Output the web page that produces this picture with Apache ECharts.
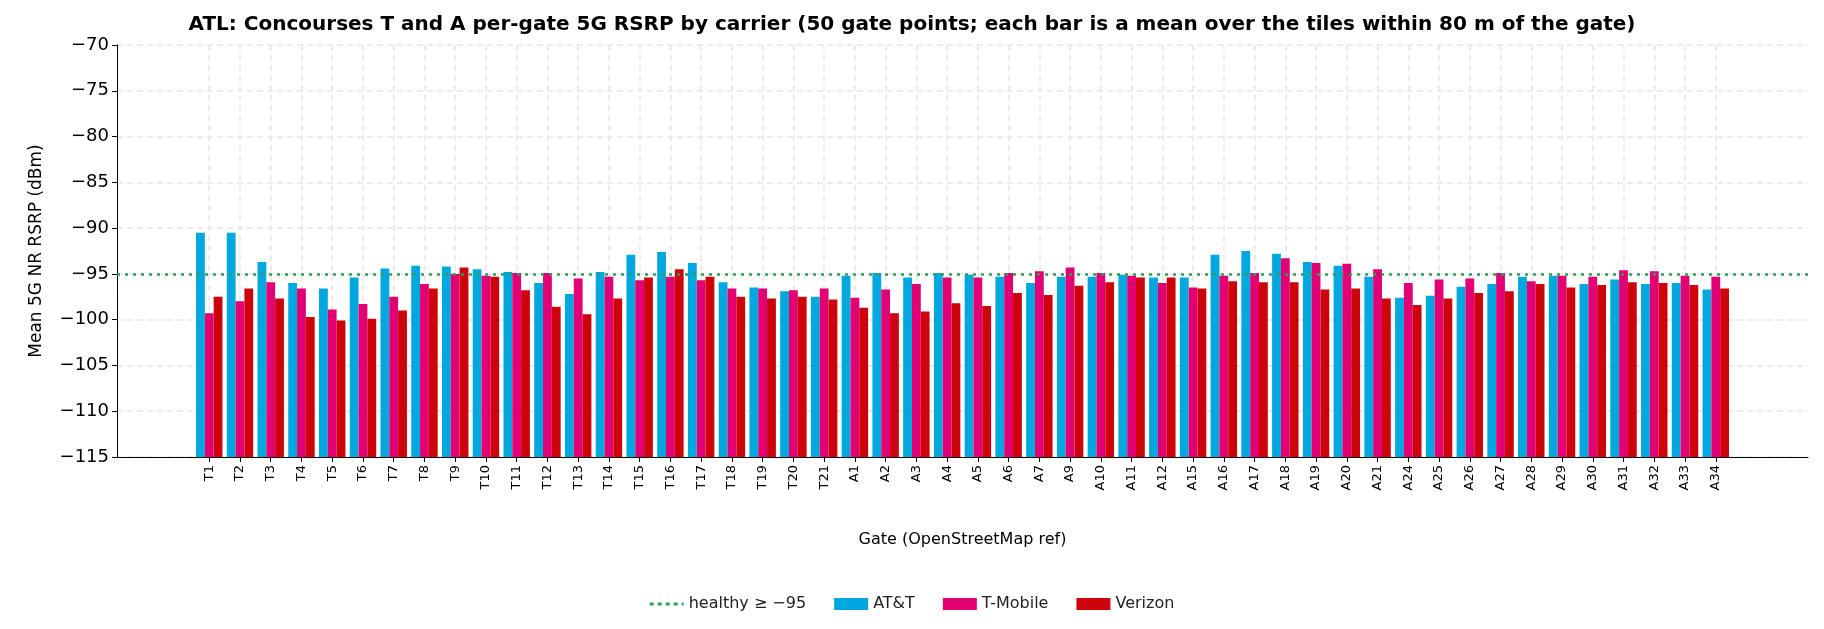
<!DOCTYPE html>
<html>
<head>
<meta charset="utf-8">
<script src="https://cdn.jsdelivr.net/npm/echarts@6/dist/echarts.min.js"></script>
<style>html,body{margin:0;padding:0;background:#fff}#grafico{width:1824px;height:629px}</style>
</head>
<body>
<div id="grafico"></div>
<script>
var gates = ["T1","T2","T3","T4","T5","T6","T7","T8","T9","T10","T11","T12","T13","T14","T15","T16","T17","T18","T19","T20","T21",
    "A1","A2","A3","A4","A5","A6","A7","A9","A10","A11","A12","A15","A16","A17","A18","A19","A20","A21","A24","A25","A26","A27","A28","A29","A30","A31","A32","A33","A34"];
var att = [-90.5,-90.5,-93.7,-96.0,-96.6,-95.4,-94.4,-94.1,-94.2,-94.5,-94.8,-96.0,-97.2,-94.8,-92.9,-92.6,-93.8,-95.9,-96.5,-96.9,-97.5,
    -95.2,-94.9,-95.4,-94.9,-95.1,-95.3,-96.0,-95.3,-95.3,-95.1,-95.4,-95.4,-92.9,-92.5,-92.8,-93.7,-94.1,-95.3,-97.6,-97.4,-96.4,-96.1,-95.3,-95.2,-96.1,-95.6,-96.1,-96.0,-96.7];
var tmobile = [-99.3,-98.0,-95.9,-96.6,-98.9,-98.3,-97.5,-96.1,-95.0,-95.2,-94.9,-94.9,-95.5,-95.3,-95.7,-95.3,-95.7,-96.6,-96.6,-96.8,-96.6,
    -97.6,-96.7,-96.1,-95.4,-95.4,-94.9,-94.7,-94.3,-94.9,-95.2,-96.0,-96.5,-95.2,-94.9,-93.3,-93.8,-93.9,-94.5,-96.0,-95.6,-95.5,-94.9,-95.8,-95.2,-95.3,-94.6,-94.7,-95.2,-95.3];
var verizon = [-97.5,-96.6,-97.7,-99.7,-100.1,-99.9,-99.0,-96.6,-94.3,-95.3,-96.8,-98.6,-99.4,-97.7,-95.4,-94.5,-95.3,-97.5,-97.7,-97.5,-97.8,
    -98.7,-99.3,-99.1,-98.2,-98.5,-97.1,-97.3,-96.3,-95.9,-95.4,-95.4,-96.6,-95.8,-95.9,-95.9,-96.7,-96.6,-97.7,-98.4,-97.7,-97.1,-96.9,-96.1,-96.5,-96.2,-95.9,-96.0,-96.2,-96.6];
var healthy = -95;
var yMin = -115, yMax = -70;
var pad = 3;

function minus(v){ return String(v).replace("-", "\u2212"); }

function conRelleno(arr){
    var out = [];
    for (var i = 0; i < pad; i++) out.push("-");
    arr.forEach(function(v){ out.push(v - yMin); });
    for (var j = 0; j < pad; j++) out.push("-");
    return out;
}

var cats = [];
for (var i = 0; i < pad; i++) cats.push("");
gates.forEach(function(g){ cats.push(g); });
for (var j = 0; j < pad; j++) cats.push("");

var myChart = echarts.init(document.getElementById("grafico"));
var fuente = "DejaVu Sans";
var option = {
    textStyle: { fontFamily: fuente },
    color: ["#2ca05a", "#00a8e0", "#e20074", "#cd040b"],
    title: {
        text: "ATL: Concourses T and A per-gate 5G RSRP by carrier (50 gate points; each bar is a mean over the tiles within 80 m of the gate)",
        left: "center", top: 10,
        textStyle: { fontSize: 20, fontWeight: "bold", color: "#000", fontFamily: fuente }
    },
    legend: {
        bottom: 12, left: "center", itemWidth: 34, itemHeight: 12, itemGap: 28,
        textStyle: { fontSize: 16, color: "#222", fontFamily: fuente },
        data: [
            { name: "healthy \u2265 \u221295", icon: "path://M0,5h4v3h-4zM8,5h4v3h-4zM16,5h4v3h-4zM24,5h4v3h-4zM32,5h2v3h-2z" },
            { name: "AT&T", icon: "rect" },
            { name: "T-Mobile", icon: "rect" },
            { name: "Verizon", icon: "rect" }
        ]
    },
    grid: { left: 117, right: 16, top: 45, bottom: 172 },
    xAxis: {
        type: "category", data: cats, boundaryGap: false,
        name: "Gate (OpenStreetMap ref)", nameLocation: "middle", nameGap: 75,
        nameTextStyle: { fontSize: 16, color: "#000" },
        axisLine: { lineStyle: { color: "#000" } },
        axisTick: { alignWithLabel: true, interval: function(i){ return i >= pad && i < pad + gates.length; }, lineStyle: { color: "#000" } },
        axisLabel: { rotate: 90, interval: 0, fontSize: 13, color: "#000" },
        splitLine: { show: true, interval: function(i){ return i >= pad && i < pad + gates.length; }, lineStyle: { type: [6, 4], color: "#e6e6e6", width: 1.5 } }
    },
    yAxis: {
        type: "value", min: 0, max: yMax - yMin, interval: 5,
        name: "Mean 5G NR RSRP (dBm)", nameLocation: "middle", nameGap: 72,
        nameTextStyle: { fontSize: 17, color: "#000" },
        axisLine: { show: true, lineStyle: { color: "#000" } },
        axisTick: { show: true, lineStyle: { color: "#000" } },
        axisLabel: { fontSize: 18, color: "#000", formatter: function(v){ return minus(v + yMin); } },
        splitLine: { show: true, lineStyle: { type: [6, 4], color: "#e6e6e6", width: 1.5 } }
    },
    series: [
        {
            name: "healthy \u2265 \u221295", type: "line", data: [], symbol: "none",
            lineStyle: { type: "dotted", width: 2.5, color: "#2ca05a" },
            markLine: {
                silent: true, symbol: "none", label: { show: false },
                lineStyle: { type: [3, 5], width: 2.5, color: "#2ca05a" },
                data: [{ yAxis: healthy - yMin }]
            }
        },
        { name: "AT&T", type: "bar", data: conRelleno(att), barGap: "0%", barCategoryGap: "14%" },
        { name: "T-Mobile", type: "bar", data: conRelleno(tmobile), barGap: "0%", barCategoryGap: "14%" },
        { name: "Verizon", type: "bar", data: conRelleno(verizon), barGap: "0%", barCategoryGap: "14%" }
    ]
};
myChart.setOption(option, true);
</script>
</body>
</html>
